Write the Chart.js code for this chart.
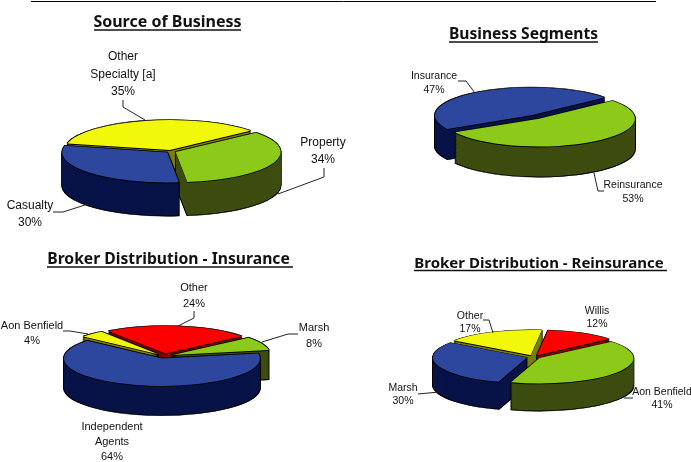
<!DOCTYPE html>
<html><head><meta charset="utf-8">
<style>html,body{margin:0;padding:0;background:#fff;width:691px;height:462px;overflow:hidden}
canvas{position:absolute;left:0;top:0}</style>
<script src="https://cdn.jsdelivr.net/npm/chart.js@4"></script></head>
<body>
<canvas id="c0" width="691" height="462"></canvas>
<canvas id="c1" width="691" height="462"></canvas>
<canvas id="c2" width="691" height="462"></canvas>
<canvas id="c3" width="691" height="462"></canvas>
<script>
// ---- data ----
const sourceCategories = ["Property", "Casualty", "Other Specialty [a]"];
const sourceValues = [34, 30, 35];
const segmentCategories = ["Reinsurance", "Insurance"];
const segmentValues = [53, 47];
const insuranceCategories = ["Marsh", "Independent Agents", "Aon Benfield", "Other"];
const insuranceValues = [8, 64, 4, 24];
const reinsuranceCategories = ["Aon Benfield", "Marsh", "Other", "Willis"];
const reinsuranceValues = [41, 30, 17, 12];

// ---- colours ----
const GREEN = ["#8CC918", "#3D4D10"], BLUE = ["#2E479E", "#081348"],
      YELLOW = ["#F2F80A", "#7B7D0A"], RED = ["#FF0000", "#800000"];

const TITLE_FONT = '"Noto Sans", sans-serif';
const LABEL_FONT = '"Liberation Sans", sans-serif';
const W = 691, H = 462;

// ---- layout of each pie and its texts ----
const charts = [
 { id:"c0", title:"Source of Business", tx:167.5, ty:27, ul:[94,241,30], size:12, titleSize:16,
   labels:sourceCategories, values:sourceValues, colors:[GREEN,BLUE,YELLOW],
   cx:171, cy:151.5, R:105, k:0.286, depth:33, explode:5, rotation:50,
   texts:[[123,[60,78,95],["Other","Specialty [a]","35%"]],[323,[146,163],["Property","34%"]],[30,[209,226],["Casualty","30%"]]],
   leaders:[[[123,100],[123,107],[145,120]],[[324,168],[324,177],[278,194]],[[53,212],[63,212],[88,204]]] },
 { id:"c1", title:"Business Segments", tx:523.5, ty:39, ul:[449,598,42], size:10.5, titleSize:15.6,
   labels:segmentCategories, values:segmentValues, colors:[GREEN,BLUE],
   cx:535, cy:117, R:96, k:0.29, depth:30, explode:7, rotation:50,
   texts:[[434,[79,93],["Insurance","47%"]],[633,[188,202],["Reinsurance","53%"]]],
   leaders:[[[458,81],[466,81],[475,93]],[[604,191],[598,191],[594,173]]] },
 { id:"c2", title:"Broker Distribution - Insurance", tx:168.5, ty:264, ul:[47,293,267], size:11, titleSize:15.7,
   labels:insuranceCategories, values:insuranceValues, colors:[GREEN,BLUE,YELLOW,RED],
   cx:164.3, cy:356, R:98, k:0.28, depth:29, explode:9, rotation:51,
   texts:[[194,[291,307],["Other","24%"]],[314,[331,347],["Marsh","8%"]],[32,[329,344],["Aon Benfield","4%"]],[112,[430,445,460],["Independent","Agents","64%"]]],
   leaders:[[[194,311],[194,318],[178,326]],[[298,334],[288,334],[262,342]],[[63,331],[70,331],[88,334]]] },
 { id:"c3", title:"Broker Distribution - Reinsurance", tx:539, ty:268, ul:[414,667,270.5], size:10.5, titleSize:15,
   labels:reinsuranceCategories, values:reinsuranceValues, colors:[GREEN,BLUE,YELLOW,RED],
   cx:533.6, cy:357, R:94, k:0.27, depth:27, explode:7, rotation:50,
   texts:[[597,[314,327],["Willis","12%"]],[470,[319,332],["Other","17%"]],[403,[391,404],["Marsh","30%"]],[662,[395,408],["Aon Benfield","41%"]]],
   leaders:[[[483,320],[489,320],[493,333]],[[418,394],[439,392]],[[633,398],[624,398]]] }
];

// draws the library's arc elements as extruded, exploded, tilted slices
const pie3d = {
  id: "pie3d",
  beforeDatasetsDraw(chart, args, o) {
    const ctx = chart.ctx, meta = chart.getDatasetMeta(0), c = o.spec;
    const arcs = meta.data.map((el, i) => ({ el, i, mid: (el.startAngle + el.endAngle) / 2 }));
    arcs.sort((a, b) => Math.sin(a.mid) - Math.sin(b.mid));
    const paint = (arc, d, bg, bw) => {
      const el = arc.el, saved = el.options;
      el.options = Object.assign({}, saved, { backgroundColor: bg, borderColor: bg, borderWidth: bw, borderJoinStyle: "round", offset: 0, spacing: 0 });
      ctx.save();
      ctx.translate(el.x, el.y + d);
      ctx.scale(1, c.k);
      ctx.translate(-el.x + Math.cos(arc.mid) * c.explode, -el.y + Math.sin(arc.mid) * c.explode);
      el.draw(ctx);
      ctx.restore();
      el.options = saved;
    };
    arcs.forEach(arc => {
      const [top, side] = c.colors[arc.i];
      for (let d = c.depth + 0.8; d >= -0.8; d -= 0.8) paint(arc, d, "#000", 1.6);
      for (let d = c.depth; d >= 1; d -= 0.8) paint(arc, d, side, 0);
      paint(arc, 0.9, "#000", 0);
      paint(arc, 0, top, 0);
    });
    return false;
  },
  afterDraw(chart, args, o) {
    const ctx = chart.ctx, c = o.spec;
    ctx.save();
    ctx.fillStyle = "#111"; ctx.strokeStyle = "#111";
    ctx.textAlign = "center"; ctx.textBaseline = "alphabetic";
    ctx.font = `bold ${c.titleSize}px ${TITLE_FONT}`;
    ctx.fillText(c.title, c.tx, c.ty);
    ctx.lineWidth = 1.5;
    ctx.beginPath(); ctx.moveTo(c.ul[0], c.ul[2]); ctx.lineTo(c.ul[1], c.ul[2]); ctx.stroke();
    ctx.font = `${c.size}px ${LABEL_FONT}`;
    c.texts.forEach(([x, ys, lines]) => lines.forEach((t, i) => ctx.fillText(t, x, ys[i])));
    ctx.lineWidth = 1; ctx.strokeStyle = "#222";
    c.leaders.forEach(pts => {
      ctx.beginPath();
      pts.forEach((p, i) => i ? ctx.lineTo(p[0], p[1]) : ctx.moveTo(p[0], p[1]));
      ctx.stroke();
    });
    if (c.id === "c0") {
      ctx.strokeStyle = "#000"; ctx.lineWidth = 1;
      ctx.beginPath(); ctx.moveTo(31, 1.5); ctx.lineTo(656, 1.5); ctx.stroke();
    }
    ctx.restore();
  }
};

charts.forEach(c => {
  const S = Math.min(c.cx, W - c.cx, c.cy, H - c.cy);
  new Chart(document.getElementById(c.id), {
    type: "pie",
    data: { labels: c.labels, datasets: [{ data: c.values, backgroundColor: c.colors.map(p => p[0]), borderWidth: 0 }] },
    plugins: [pie3d],
    options: {
      responsive: false, animation: false, devicePixelRatio: 1,
      rotation: c.rotation, radius: c.R,
      layout: { padding: { left: c.cx - S, right: W - c.cx - S, top: c.cy - S, bottom: H - c.cy - S } },
      events: [],
      plugins: { legend: { display: false }, title: { display: false }, tooltip: { enabled: false }, pie3d: { spec: c } }
    }
  });
});
</script>
</body></html>
